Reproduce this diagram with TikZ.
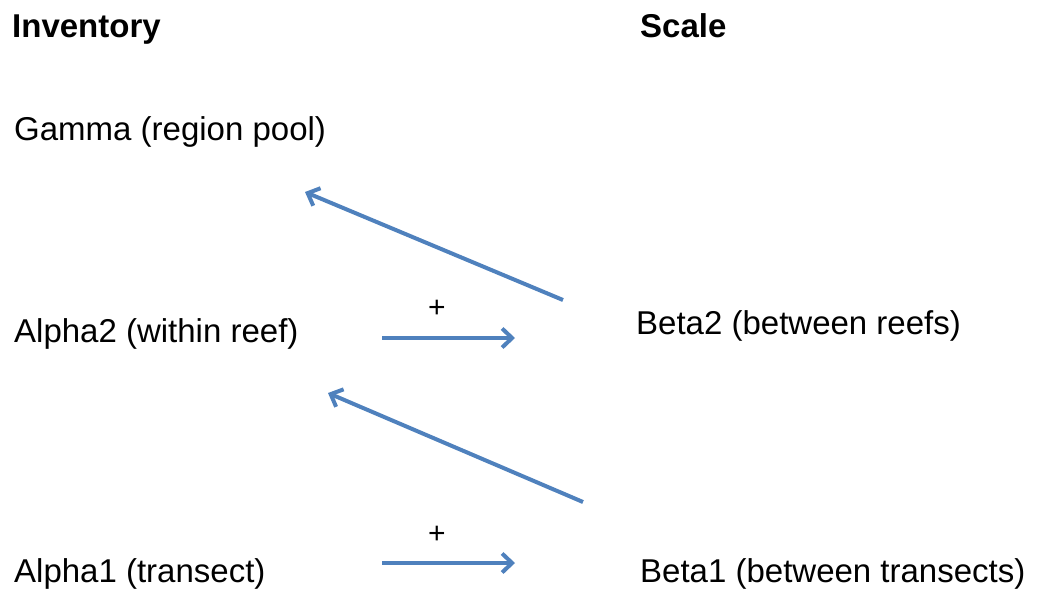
\documentclass[tikz,border=0pt]{standalone}
\usepackage{fontspec}
\setmainfont{Liberation Sans}
\usetikzlibrary{arrows.meta}
\definecolor{arrowblue}{HTML}{4F81BD}
\begin{document}
\begin{tikzpicture}[x=1pt,y=-1pt,
  lbl/.style={anchor=base west,inner sep=0pt,font=\fontsize{33}{36}\selectfont},
  hdr/.style={anchor=base west,inner sep=0pt,font=\fontsize{33}{36}\selectfont\bfseries},
  plus/.style={inner sep=0pt,font=\fontsize{30}{32}\selectfont},
  conn/.style={arrowblue,line width=4pt,-{Straight Barb[length=10pt,width=19pt,line width=4pt]}}]
\useasboundingbox (0,0) rectangle (1037,590);
\node[hdr] (inv) at (12,37) {Inventory};
\node[hdr] (scale) at (640,37) {Scale};
\node[lbl] (gamma) at (14,140) {Gamma (region pool)};
\node[lbl] (alpha2) at (14,342) {Alpha2 (within reef)};
\node[lbl] (alpha1) at (14,582) {Alpha1 (transect)};
\node[lbl] (beta2) at (636,334) {Beta2 (between reefs)};
\node[lbl] (beta1) at (640,582) {Beta1 (between transects)};
\node[plus] (p1) at (437,309) {+};
\node[plus] (p2) at (437,535) {+};
\coordinate (a1s) at (563,300);
\coordinate (a1e) at (305,192);
\coordinate (h1s) at (382,338);
\coordinate (h1e) at (515,338);
\coordinate (a2s) at (583,502);
\coordinate (a2e) at (328,393);
\coordinate (h2s) at (382,563);
\coordinate (h2e) at (515,563);
\draw[conn] (a1s) -- (a1e);
\draw[conn] (h1s) -- (h1e);
\draw[conn] (a2s) -- (a2e);
\draw[conn] (h2s) -- (h2e);
\end{tikzpicture}
\end{document}
